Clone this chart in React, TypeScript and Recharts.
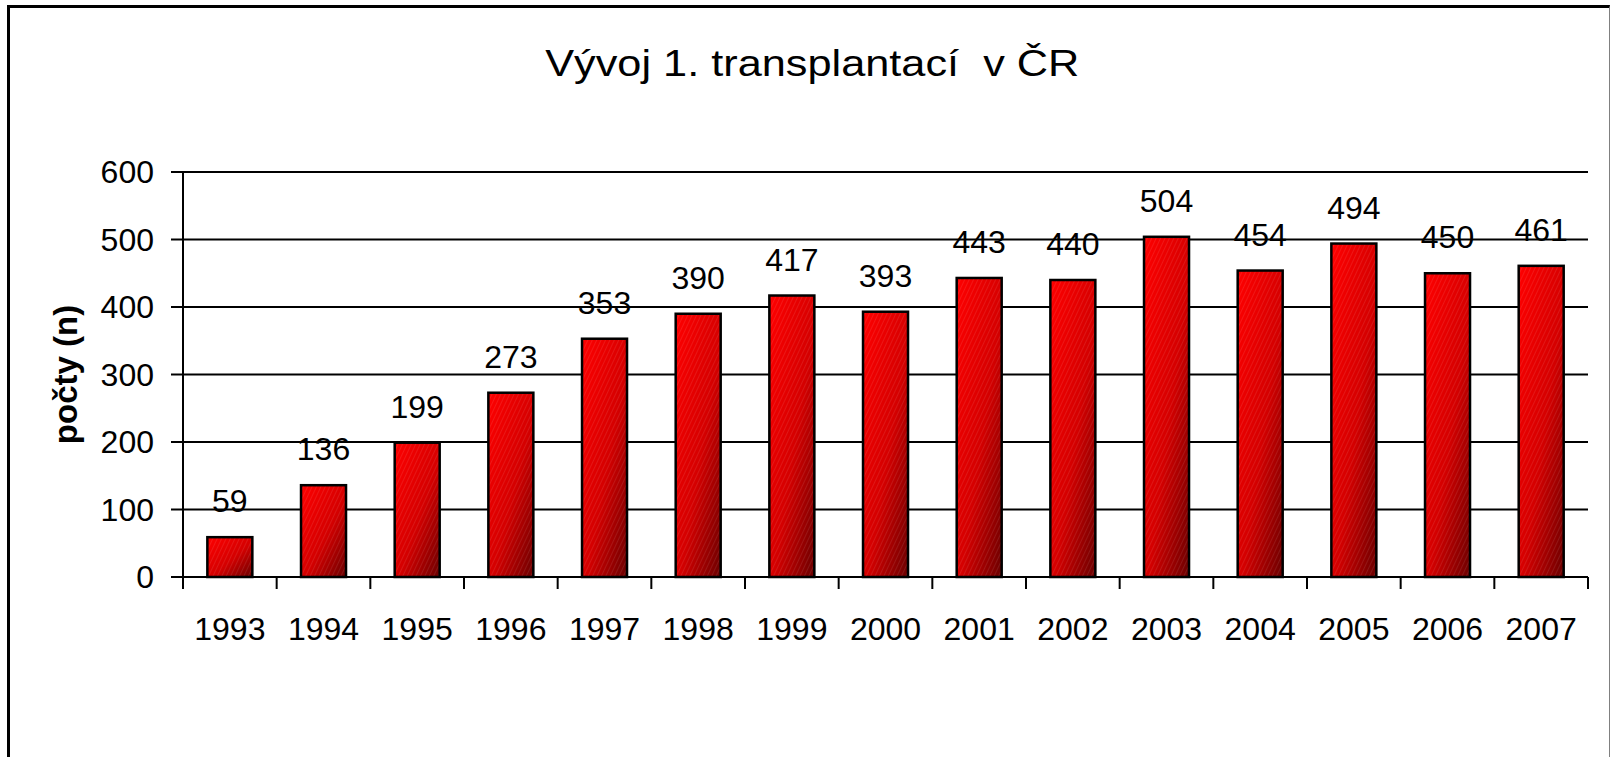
import { BarChart, Bar, XAxis, YAxis, CartesianGrid, LabelList } from 'recharts'

const years = ['1993', '1994', '1995', '1996', '1997', '1998', '1999', '2000', '2001', '2002', '2003', '2004', '2005', '2006', '2007']
const transplants = [59, 136, 199, 273, 353, 390, 417, 393, 443, 440, 504, 454, 494, 450, 461]
const yTicks = [0, 100, 200, 300, 400, 500, 600]

const data = years.map((year, i) => ({ year, value: transplants[i] }))

const FONT = '"Liberation Sans", Arial, sans-serif'
const TICK_SIZE = 12
const TICK_MARGIN = 28

// year label under the bar + tick marks between categories (Excel style)
function YearTick(props: any) {
    const { x, y, payload, index, visibleTicksCount, width } = props
    const step = width / visibleTicksCount
    const axisY = y - TICK_MARGIN - TICK_SIZE
    return (
        <g>
            <line x1={x - step / 2} x2={x - step / 2} y1={axisY} y2={axisY + TICK_SIZE} stroke="#000" strokeWidth={2} />
            {index === visibleTicksCount - 1 && (
                <line x1={x + step / 2} x2={x + step / 2} y1={axisY} y2={axisY + TICK_SIZE} stroke="#000" strokeWidth={2} />
            )}
            <text x={x} y={y} dy="0.71em" textAnchor="middle" fill="#000" fontSize={32} fontFamily={FONT}>
                {payload.value}
            </text>
        </g>
    )
}

function YLabel(props: any) {
    const { viewBox } = props
    const cx = viewBox.x + 65
    const cy = viewBox.y + viewBox.height / 2
    return (
        <text
            x={cx}
            y={cy}
            dy="0.35em"
            transform={`rotate(-90, ${cx}, ${cy})`}
            textAnchor="middle"
            fill="#000"
            fontSize={33}
            fontWeight={700}
            fontFamily={FONT}
        >
            počty (n)
        </text>
    )
}

// gradient bar with a faint diagonal texture
function TexturedBar(props: any) {
    const { x, y, width, height } = props
    if (!height || height <= 0) return null
    return (
        <g>
            <rect x={x} y={y} width={width} height={height} fill="url(#barFill)" />
            <rect x={x} y={y} width={width} height={height} fill="url(#barHatch)" />
            <rect x={x} y={y} width={width} height={height} fill="none" stroke="#000" strokeWidth={2.5} />
        </g>
    )
}

export default function App() {
    return (
        <div style={{ position: 'absolute', left: 0, top: 0, width: 1610, height: 757, overflow: 'hidden', background: '#fff' }}>
            <div
                style={{
                    position: 'absolute',
                    left: 7,
                    top: 5,
                    width: 1599,
                    height: 800,
                    borderLeft: '3px solid #000',
                    borderTop: '3px solid #000',
                    borderRight: '1px solid #808080',
                }}
            />
            <div
                style={{
                    position: 'absolute',
                    left: 0,
                    top: 45,
                    width: 1624,
                    textAlign: 'center',
                    fontFamily: FONT,
                    fontSize: 37,
                    lineHeight: '37px',
                    color: '#000',
                }}
            >
                <span style={{ display: 'inline-block', transform: 'scaleX(1.17)', whiteSpace: 'pre' }}>
                    Vývoj 1. transplantací  v ČR
                </span>
            </div>
            <div style={{ position: 'absolute', left: 0, top: 0 }}>
                <BarChart
                    width={1610}
                    height={757}
                    data={data}
                    margin={{ top: 172, right: 22, bottom: 100, left: 0 }}
                    barCategoryGap="26%"
                >
                    <defs>
                        <linearGradient id="barFill" x1="0" y1="0" x2="1" y2="1">
                            <stop offset="0%" stopColor="#ff0000" />
                            <stop offset="55%" stopColor="#d40000" />
                            <stop offset="100%" stopColor="#6a0000" />
                        </linearGradient>
                        <pattern id="barHatch" patternUnits="userSpaceOnUse" width={4} height={4} patternTransform="rotate(25)">
                            <line x1={0} y1={0} x2={0} y2={4} stroke="#ffffff" strokeOpacity={0.18} strokeWidth={1} />
                        </pattern>
                    </defs>
                    <CartesianGrid vertical={false} stroke="#000" strokeWidth={2} />
                    <XAxis
                        dataKey="year"
                        height={80}
                        axisLine={{ stroke: '#000', strokeWidth: 2 }}
                        tickLine={false}
                        tickSize={TICK_SIZE}
                        tickMargin={TICK_MARGIN}
                        interval={0}
                        tick={(p: any) => <YearTick {...p} />}
                    />
                    <YAxis
                        width={183}
                        domain={[0, 600]}
                        ticks={yTicks}
                        interval={0}
                        axisLine={{ stroke: '#000', strokeWidth: 2 }}
                        tickLine={{ stroke: '#000', strokeWidth: 2 }}
                        tickSize={TICK_SIZE}
                        tickMargin={17}
                        tick={{ fill: '#000', fontSize: 32, fontFamily: FONT }}
                        label={(p: any) => <YLabel {...p} />}
                    />
                    <Bar dataKey="value" shape={(p: any) => <TexturedBar {...p} />} isAnimationActive={false}>
                        <LabelList dataKey="value" position="top" offset={25} fill="#000" fontSize={32} fontFamily={FONT} />
                    </Bar>
                </BarChart>
            </div>
        </div>
    )
}
